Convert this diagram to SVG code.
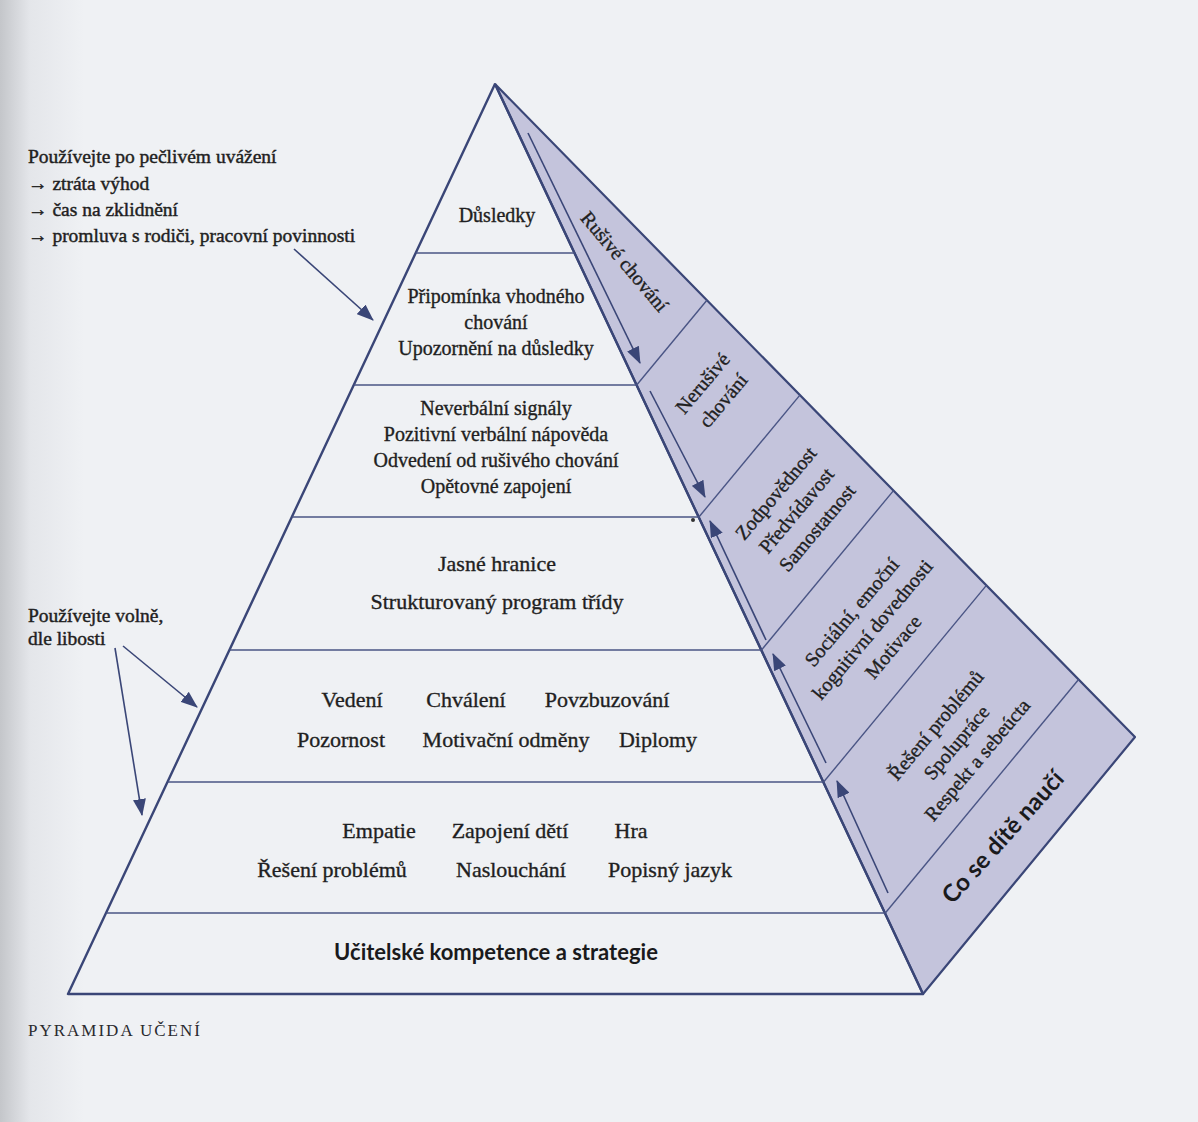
<svg xmlns="http://www.w3.org/2000/svg" width="1198" height="1122" viewBox="0 0 1198 1122">
<defs>
<linearGradient id="page" x1="0" y1="0" x2="1" y2="0">
<stop offset="0" stop-color="#c4c6ca"/>
<stop offset="0.025" stop-color="#e4e6ea"/>
<stop offset="0.07" stop-color="#eff1f4"/>
<stop offset="1" stop-color="#eff1f4"/>
</linearGradient>
<marker id="ah" markerWidth="17" markerHeight="13" refX="16" refY="6.5" orient="auto" markerUnits="userSpaceOnUse">
<path d="M0,0 L17,6.5 L0,13 Z" fill="#3a4677"/>
</marker>
<style>
.edge{fill:none;stroke:#3a4677;stroke-width:2.4;stroke-linejoin:round}
.hl{fill:none;stroke:#4a5585;stroke-width:1.6}
.div{fill:none;stroke:#4a5585;stroke-width:1.4}
.arr{fill:none;stroke:#3a4677;stroke-width:1.6}
.face{fill:#c4c4dc;stroke:#3a4677;stroke-width:2.2;stroke-linejoin:round}
.t{font-family:"Liberation Serif","Times New Roman",serif;font-size:20px;fill:#1f1f22;stroke:#1f1f22;stroke-width:0.35;text-anchor:middle}
.big{font-size:22px}
.a{font-family:"Liberation Serif","Times New Roman",serif;font-size:19.5px;fill:#1f1f22;stroke:#1f1f22;stroke-width:0.45}
.s{font-family:Lato,"Open Sans",sans-serif;font-weight:700;fill:#1a1a1c;text-anchor:middle}
.cap{font-family:"Liberation Serif","Times New Roman",serif;font-size:17px;letter-spacing:2px;fill:#2a2a2e}
</style>
</defs>
<rect x="0" y="0" width="1198" height="1122" fill="url(#page)"/>

<g id="pyramid">
<polygon class="face" points="495,84 1135,737 923,994"/>
<polyline class="edge" points="495,84 68,994 923,994 495,84"/>
<line class="hl" x1="415.8" y1="253" x2="574.6" y2="253"/>
<line class="hl" x1="353.9" y1="385" x2="636.7" y2="385"/>
<line class="hl" x1="292.1" y1="517" x2="698.9" y2="517"/>
<line class="hl" x1="229.7" y1="650" x2="761.5" y2="650"/>
<line class="hl" x1="167.8" y1="782" x2="823.6" y2="782"/>
<line class="hl" x1="106.4" y1="913" x2="885.3" y2="913"/>
<line class="div" x1="636.7" y1="385" x2="706.9" y2="300.2"/>
<line class="div" x1="698.9" y1="517" x2="799.9" y2="395.1"/>
<line class="div" x1="761.5" y1="650" x2="893.5" y2="490.6"/>
<line class="div" x1="823.6" y1="782" x2="986.4" y2="585.4"/>
<line class="div" x1="885.3" y1="913" x2="1078.6" y2="679.5"/>
<circle cx="693" cy="520" r="2" fill="#333"/>
</g>

<g id="level-dusledky">
<text class="t" x="497" y="222">Důsledky</text>
</g>
<g id="level-pripominka">
<text class="t" x="496" y="303">Připomínka vhodného</text>
<text class="t" x="496" y="329">chování</text>
<text class="t" x="496" y="355">Upozornění na důsledky</text>
</g>
<g id="level-neverbalni">
<text class="t" x="496" y="415">Neverbální signály</text>
<text class="t" x="496" y="441">Pozitivní verbální nápověda</text>
<text class="t" x="496" y="467">Odvedení od rušivého chování</text>
<text class="t" x="496" y="493">Opětovné zapojení</text>
</g>
<g id="level-hranice">
<text class="t big" x="497" y="571">Jasné hranice</text>
<text class="t big" x="497" y="609">Strukturovaný program třídy</text>
</g>
<g id="level-vedeni">
<text class="t big" x="352" y="707">Vedení</text>
<text class="t big" x="466" y="707">Chválení</text>
<text class="t big" x="607" y="707">Povzbuzování</text>
<text class="t big" x="341" y="747">Pozornost</text>
<text class="t big" x="506" y="747">Motivační odměny</text>
<text class="t big" x="658" y="747">Diplomy</text>
</g>
<g id="level-empatie">
<text class="t big" x="379" y="838">Empatie</text>
<text class="t big" x="510" y="838">Zapojení dětí</text>
<text class="t big" x="631" y="838">Hra</text>
<text class="t big" x="332" y="877">Řešení problémů</text>
<text class="t big" x="511" y="877">Naslouchání</text>
<text class="t big" x="670" y="877">Popisný jazyk</text>
</g>
<g id="level-base">
<text class="s" x="496" y="960" font-size="22">Učitelské kompetence a strategie</text>
</g>

<g id="side-rusive" transform="translate(624,262) rotate(50)">
<text class="t" x="0" y="6">Rušivé chování</text>
</g>
<g id="side-nerusive" transform="translate(713,392) rotate(-50)">
<text class="t" x="0" y="-7">Nerušivé</text>
<text class="t" x="0" y="20">chování</text>
</g>
<g id="side-zodpovednost" transform="translate(797,511) rotate(-50)">
<text class="t" x="0" y="-21">Zodpovědnost</text>
<text class="t" x="0" y="6">Předvídavost</text>
<text class="t" x="0" y="33">Samostatnost</text>
</g>
<g id="side-socialni" transform="translate(873,630) rotate(-50)">
<text class="t" x="0" y="-21">Sociální, emoční</text>
<text class="t" x="0" y="6">kognitivní dovednosti</text>
<text class="t" x="0" y="33">Motivace</text>
</g>
<g id="side-reseni" transform="translate(957,743) rotate(-50)">
<text class="t" x="0" y="-21">Řešení problémů</text>
<text class="t" x="0" y="6">Spolupráce</text>
<text class="t" x="0" y="33">Respekt a sebeúcta</text>
</g>
<g id="side-nauci" transform="translate(1003,837) rotate(-48)">
<text class="s" x="0" y="8" font-size="24">Co se dítě naučí</text>
</g>

<g id="note-top">
<text class="a" x="28" y="163">Používejte po pečlivém uvážení</text>
<text class="a" x="28" y="190">→ ztráta výhod</text>
<text class="a" x="28" y="216">→ čas na zklidnění</text>
<text class="a" x="28" y="242">→ promluva s rodiči, pracovní povinnosti</text>
</g>
<g id="note-bottom">
<text class="a" x="28" y="622">Používejte volně,</text>
<text class="a" x="28" y="645">dle libosti</text>
</g>
<g id="caption">
<text class="cap" x="28" y="1036">PYRAMIDA UČENÍ</text>
</g>

<g id="connectors">
<line class="arr" x1="294" y1="249" x2="373" y2="320" marker-end="url(#ah)"/>
<line class="arr" x1="123" y1="646" x2="197" y2="707" marker-end="url(#ah)"/>
<line class="arr" x1="115" y1="648" x2="142" y2="815" marker-end="url(#ah)"/>
<line class="arr" x1="528" y1="133" x2="640" y2="363" marker-end="url(#ah)"/>
<line class="arr" x1="650" y1="391" x2="705" y2="497" marker-end="url(#ah)"/>
<line class="arr" x1="766" y1="640" x2="710" y2="521" marker-end="url(#ah)"/>
<line class="arr" x1="826" y1="763" x2="773" y2="654" marker-end="url(#ah)"/>
<line class="arr" x1="888" y1="893" x2="837" y2="781" marker-end="url(#ah)"/>
</g>
</svg>
